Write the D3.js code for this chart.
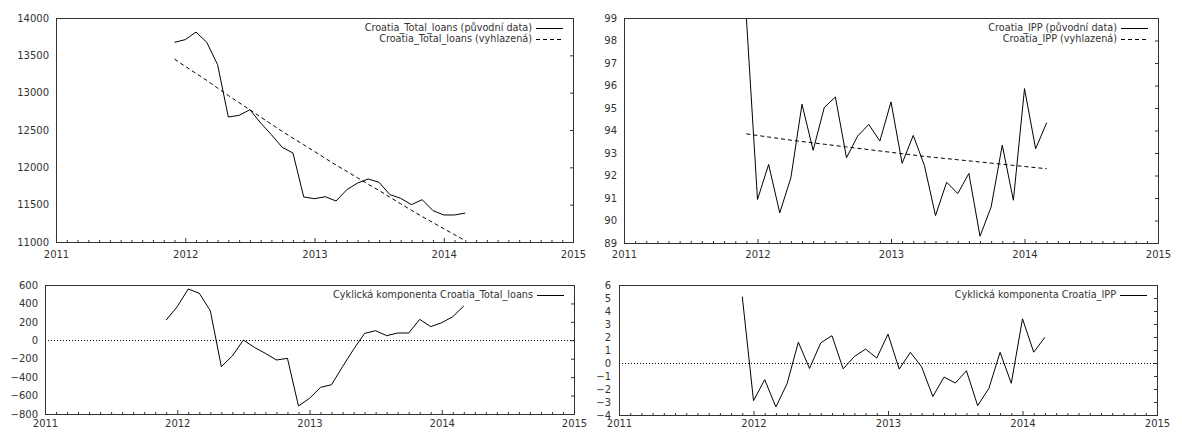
<!DOCTYPE html>
<html><head><meta charset="utf-8">
<script src="https://cdn.jsdelivr.net/npm/d3@7"></script>
<style>body{margin:0;background:#fff} svg{display:block}</style>
</head><body><svg id="c" width="1182" height="432"></svg>
<script>
const months = ["2011-12","2012-01","2012-02","2012-03","2012-04","2012-05","2012-06","2012-07","2012-08","2012-09","2012-10","2012-11","2012-12",
  "2013-01","2013-02","2013-03","2013-04","2013-05","2013-06","2013-07","2013-08","2013-09","2013-10","2013-11","2013-12","2014-01","2014-02","2014-03"];
const yearTicks = [2011, 2012, 2013, 2014, 2015];

const loansOrig  = [13674,13710,13812,13674,13375,12674,12696,12772,12594,12437,12268,12192,11603,11580,11607,11549,11701,11790,11844,11799,11634,11585,11500,11567,11420,11362,11362,11388];
const loansTrend = [13450,13352,13258,13164,13062,12962,12866,12770,12673,12578,12482,12390,12302,12212,12121,12030,11945,11860,11772,11690,11600,11512,11425,11340,11260,11178,11098,11018];
const loansCycle = [220,365,557,510,321,-286,-170,3,-77,-142,-214,-196,-713,-630,-511,-482,-286,-98,75,104,50,79,79,227,148,191,256,372];

const ippOrig  = [99.0,90.93,92.49,90.34,91.90,95.17,93.12,95.02,95.49,92.79,93.75,94.27,93.53,95.27,92.54,93.78,92.45,90.22,91.70,91.20,92.09,89.30,90.60,93.35,90.90,95.86,93.19,94.35];
const ippTrend = [93.85,93.78,93.71,93.64,93.57,93.51,93.45,93.39,93.33,93.27,93.21,93.15,93.09,93.03,92.97,92.91,92.85,92.80,92.75,92.70,92.65,92.60,92.55,92.50,92.45,92.40,92.35,92.30];
const ippCycle = [5.10,-2.90,-1.28,-3.38,-1.58,1.60,-0.42,1.55,2.10,-0.45,0.50,1.07,0.38,2.22,-0.47,0.82,-0.30,-2.58,-1.08,-1.54,-0.60,-3.28,-1.95,0.82,-1.56,3.40,0.83,1.98];

const loansTicks = [11000,11500,12000,12500,13000,13500,14000];
const ippTicks = [89,90,91,92,93,94,95,96,97,98,99];
const loansCycleTicks = [-800,-600,-400,-200,0,200,400,600];
const ippCycleTicks = [-4,-3,-2,-1,0,1,2,3,4,5,6];

const legLoansOrig = "Croatia_Total_loans (původní data)";
const legLoansTrend = "Croatia_Total_loans (vyhlazená)";
const legIppOrig = "Croatia_IPP (původní data)";
const legIppTrend = "Croatia_IPP (vyhlazená)";
const legLoansCycle = "Cyklická komponenta Croatia_Total_loans";
const legIppCycle = "Cyklická komponenta Croatia_IPP";

const t = months.map(m => { const [y, mo] = m.split("-").map(Number); return y + (mo - 1) / 12; });

const svg = d3.select("#c");
const FONT = "DejaVu Sans";
const INK = "#333";
let clipId = 0;

function panel(cfg) {
  const g = svg.append("g");
  const x = d3.scaleLinear().domain([2011, 2015]).range([cfg.l, cfg.r]);
  const y = d3.scaleLinear().domain([cfg.ticks[0], cfg.ticks[cfg.ticks.length - 1]]).range([cfg.b, cfg.t]);
  const id = "clip" + (clipId++);
  svg.append("clipPath").attr("id", id).append("rect")
    .attr("x", cfg.l).attr("y", cfg.t).attr("width", cfg.r - cfg.l).attr("height", cfg.b - cfg.t);

  const minor = d3.range(1, 48).filter(i => i % 12 !== 0).map(i => 2011 + i / 12);
  g.append("g").attr("transform", `translate(0,${cfg.b})`)
    .call(d3.axisBottom(x).tickValues(minor).tickSize(-2).tickFormat(""))
    .call(a => a.select(".domain").remove())
    .call(a => a.selectAll("line").attr("stroke", INK));
  g.append("g").attr("transform", `translate(0,${cfg.b})`)
    .call(d3.axisBottom(x).tickValues(yearTicks).tickSize(-4).tickPadding(cfg.xpad).tickFormat(d3.format("d")))
    .call(a => a.select(".domain").remove())
    .call(a => a.selectAll("line").attr("stroke", INK))
    .call(a => a.selectAll("text").attr("fill", INK).style("font-family", FONT).style("font-size", "10px"));
  g.append("g").attr("transform", `translate(${cfg.r},0)`)
    .call(d3.axisRight(y).tickValues(cfg.ticks).tickSize(-3).tickFormat(""))
    .call(a => a.select(".domain").remove())
    .call(a => a.selectAll("line").attr("stroke", INK));
  g.append("g").attr("transform", `translate(${cfg.l},0)`)
    .call(d3.axisLeft(y).tickValues(cfg.ticks).tickSize(0).tickPadding(cfg.ypad).tickFormat(d3.format("d")))
    .call(a => a.select(".domain").remove())
    .call(a => a.selectAll("text").attr("fill", INK).style("font-family", FONT).style("font-size", "10px"));

  if (cfg.zero) {
    g.append("line").attr("x1", cfg.l).attr("x2", cfg.r)
      .attr("y1", Math.round(y(0)) + 0.5).attr("y2", Math.round(y(0)) + 0.5)
      .attr("stroke", "#000").attr("stroke-dasharray", "1,2");
  }

  const line = d3.line().x((d, i) => x(t[i])).y(d => y(d));
  cfg.series.forEach(s => {
    g.append("path").datum(s.values).attr("d", line)
      .attr("clip-path", `url(#${id})`)
      .attr("fill", "none").attr("stroke", "#000").attr("stroke-width", 1)
      .attr("stroke-dasharray", s.dash || null);
  });

  g.append("rect").attr("x", cfg.l + 0.5).attr("y", cfg.t + 0.5)
    .attr("width", cfg.r - cfg.l).attr("height", cfg.b - cfg.t)
    .attr("fill", "none").attr("stroke", INK);

  cfg.series.forEach((s, i) => {
    const ly = cfg.t + 10 + i * 10.5;
    const lx2 = cfg.r - 10, lx1 = lx2 - 27;
    g.append("line").attr("x1", lx1).attr("x2", lx2).attr("y1", Math.round(ly) + 0.5).attr("y2", Math.round(ly) + 0.5)
      .attr("stroke", "#000").attr("stroke-dasharray", s.dash || null);
    g.append("text").attr("x", lx1 - 4).attr("y", ly).attr("dy", "0.35em")
      .attr("text-anchor", "end").attr("fill", INK)
      .style("font-family", FONT).style("font-size", "9.7px").text(s.label);
  });
}

panel({l: 56, r: 573, t: 18, b: 242, ticks: loansTicks, xpad: 9, ypad: 7,
  series: [{values: loansOrig, label: legLoansOrig}, {values: loansTrend, label: legLoansTrend, dash: "4,3"}]});
panel({l: 624, r: 1158, t: 18, b: 243, ticks: ippTicks, xpad: 8, ypad: 7,
  series: [{values: ippOrig, label: legIppOrig}, {values: ippTrend, label: legIppTrend, dash: "4,3"}]});
panel({l: 45, r: 574, t: 285, b: 414, ticks: loansCycleTicks, xpad: 6, ypad: 7, zero: true,
  series: [{values: loansCycle, label: legLoansCycle}]});
panel({l: 619, r: 1157, t: 285, b: 415, ticks: ippCycleTicks, xpad: 5, ypad: 8, zero: true,
  series: [{values: ippCycle, label: legIppCycle}]});
</script></body></html>
